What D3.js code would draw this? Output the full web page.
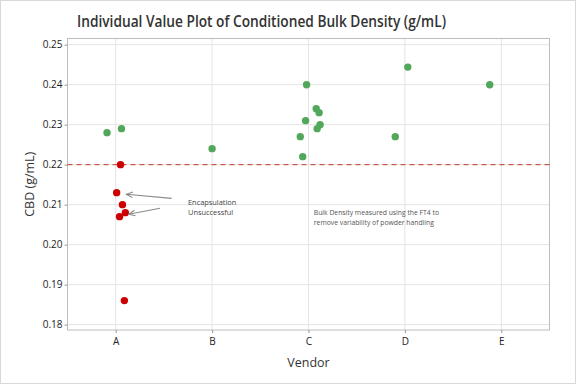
<!DOCTYPE html>
<html>
<head>
<meta charset="UTF-8">
<title>Individual Value Plot</title>
<script src="https://cdn.jsdelivr.net/npm/d3@7"></script>
<style>
  body { margin: 0; background: #fff; }
  svg { display: block; font-family: "Open Sans", "Noto Sans", sans-serif; }
  .tick text { fill: #222; }
</style>
</head>
<body>
<svg id="chart" width="576" height="384"></svg>
<script>
// data
const vendors = ["A", "B", "C", "D", "E"];
const yTicks = [0.18, 0.19, 0.20, 0.21, 0.22, 0.23, 0.24, 0.25];
const pointVendor = ["A","A","A","A","A","A","A","A","B","C","C","C","C","C","C","C","C","D","D","E"];
const pointValue  = [0.228,0.229,0.220,0.213,0.210,0.208,0.207,0.186,0.224,0.240,0.234,0.233,0.231,0.230,0.229,0.227,0.222,0.2444,0.227,0.240];
// horizontal jitter, as a fraction of the category step
const pointJitter = [-0.09,0.06,0.05,0.01,0.07,0.10,0.04,0.09,0.0,-0.02,0.08,0.11,-0.03,0.12,0.09,-0.085,-0.06,0.03,-0.10,-0.12];
const refLine = 0.22;

const svg = d3.select("#chart");
const W = 576, H = 384;
const m = { left: 67.5, right: 549.5, top: 38.5, bottom: 330 };

svg.append("rect").attr("x", 0.5).attr("y", 0.5).attr("width", W - 1).attr("height", H - 1)
    .attr("fill", "#fff").attr("stroke", "#d9d9d9");

const x = d3.scalePoint().domain(vendors).range([m.left, m.right]).padding(0.5);
const y = d3.scaleLinear().domain([0.17865, 0.25155]).range([m.bottom, m.top]);

// grid
svg.append("g").selectAll("line").data(yTicks).join("line")
    .attr("x1", m.left).attr("x2", m.right)
    .attr("y1", d => y(d)).attr("y2", d => y(d))
    .attr("stroke", "#e4e4e4");
svg.append("g").selectAll("line").data(vendors).join("line")
    .attr("x1", d => x(d)).attr("x2", d => x(d))
    .attr("y1", m.top).attr("y2", m.bottom)
    .attr("stroke", "#e4e4e4");

// frame
svg.append("rect").attr("x", m.left).attr("y", m.top)
    .attr("width", m.right - m.left).attr("height", m.bottom - m.top)
    .attr("fill", "none").attr("stroke", "#bdbdbd");

// axes
const yAxis = svg.append("g").attr("transform", `translate(${m.left},0)`)
    .call(d3.axisLeft(y).tickValues(yTicks).tickFormat(d3.format(".2f")).tickSize(3).tickPadding(2));
const xAxis = svg.append("g").attr("transform", `translate(0,${m.bottom})`)
    .call(d3.axisBottom(x).tickSize(3).tickPadding(5));
[yAxis, xAxis].forEach(a => {
  a.select(".domain").remove();
  a.selectAll(".tick line").attr("stroke", "#999");
  a.selectAll(".tick text").attr("font-size", 10).attr("font-family", "'Open Sans', sans-serif");
});

// reference line
svg.append("line").attr("x1", m.left).attr("x2", m.right)
    .attr("y1", y(refLine)).attr("y2", y(refLine))
    .attr("stroke", "#c0392b").attr("stroke-width", 1).attr("stroke-dasharray", "5,4");

// points
const pts = pointValue.map((v, i) => ({ vendor: pointVendor[i], value: v, jit: pointJitter[i] }));
svg.append("g").selectAll("circle").data(pts).join("circle")
    .attr("cx", d => x(d.vendor) + d.jit * x.step())
    .attr("cy", d => y(d.value))
    .attr("r", 3.7)
    .attr("fill", d => d.vendor === "A" && d.value <= refLine ? "#cc0000" : "#52a85a");

// annotations
const defs = svg.append("defs");
defs.append("marker").attr("id", "arr").attr("viewBox", "0 0 10 10")
    .attr("refX", 9).attr("refY", 5).attr("markerWidth", 8).attr("markerHeight", 8)
    .attr("markerUnits", "userSpaceOnUse")
    .attr("orient", "auto")
    .append("path").attr("d", "M1,1.5 L9,5 L1,8.5").attr("fill", "none").attr("stroke", "#888").attr("stroke-width", 1.3);

const arrows = [
  { x0: 0.58, y0: 0.21155, x1: 0.11, y1: 0.2126 },
  { x0: 0.46, y0: 0.2091, x1: 0.135, y1: 0.2076 }
];
svg.append("g").selectAll("line").data(arrows).join("line")
    .attr("x1", d => x("A") + d.x0 * x.step()).attr("y1", d => y(d.y0))
    .attr("x2", d => x("A") + d.x1 * x.step()).attr("y2", d => y(d.y1))
    .attr("stroke", "#8a8a8a").attr("stroke-width", 1.2)
    .attr("marker-end", "url(#arr)");

const note1 = svg.append("text").attr("font-size", 7.4).attr("fill", "#444")
    .attr("x", x("A") + 0.75 * x.step()).attr("y", y(0.21));
note1.append("tspan").text("Encapsulation");
note1.append("tspan").attr("x", x("A") + 0.75 * x.step()).attr("dy", 10.5).text("Unsuccessful");

const note2 = svg.append("text").attr("font-size", 6.8).attr("fill", "#555")
    .attr("x", x("C") + 0.055 * x.step()).attr("y", y(0.2075));
note2.append("tspan").text("Bulk Density measured using the FT4 to");
note2.append("tspan").attr("x", x("C") + 0.055 * x.step()).attr("dy", 10.7).text("remove variability of powder handling");

// titles
svg.append("text").attr("x", 77).attr("y", 27)
    .attr("font-size", 16).attr("font-weight", 600).attr("fill", "#333")
    .attr("textLength", 369).attr("lengthAdjust", "spacingAndGlyphs")
    .text("Individual Value Plot of Conditioned Bulk Density (g/mL)");
svg.append("text").attr("x", (m.left + m.right) / 2).attr("y", 367)
    .attr("text-anchor", "middle").attr("font-size", 12.5).attr("font-weight", 500).attr("fill", "#333")
    .text("Vendor");
svg.append("text").attr("transform", `translate(34,${(m.top + m.bottom) / 2}) rotate(-90)`)
    .attr("text-anchor", "middle").attr("font-size", 12.5).attr("font-weight", 500).attr("fill", "#333")
    .text("CBD (g/mL)");
</script>
</body>
</html>
